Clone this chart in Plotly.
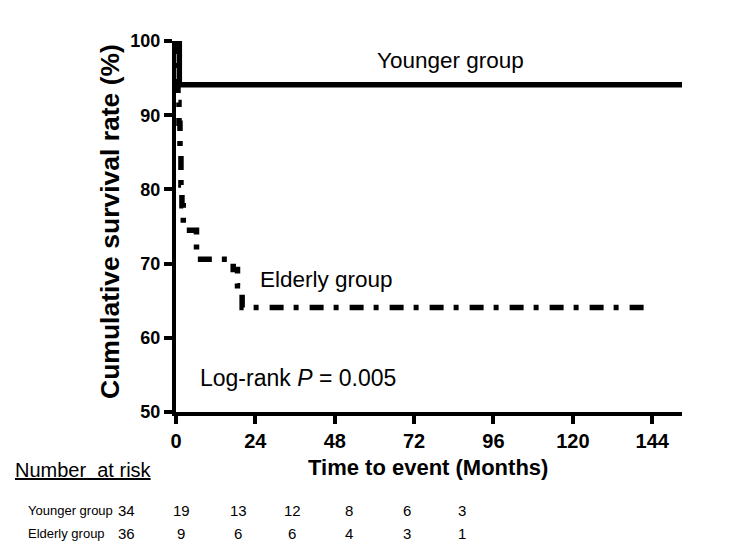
import plotly.graph_objects as go

# ---- data ----
months_young = [0, 1.0, 153]
surv_young = [100, 94.1, 94.1]

months_eld = [0, 0.3, 0.6, 0.9, 1.2, 1.5, 1.8, 2.2, 6.2, 17.3, 18.6, 20.0, 143.5]
surv_eld = [100, 97.2, 91.7, 88.9, 84.6, 80.6, 77.8, 74.5, 70.6, 69.2, 67.0, 64.1, 64.1]

x_ticks = [0, 24, 48, 72, 96, 120, 144]
y_ticks = [50, 60, 70, 80, 90, 100]

risk_groups = ["Younger group", "Elderly group"]
risk_young = [34, 19, 13, 12, 8, 6, 3]
risk_eld = [36, 9, 6, 6, 4, 3, 1]

# ---- layout geometry (page pixels; the page body has an 8px margin) ----
OFF = 8
W, H = 744 - OFF, 555 - OFF
L, R, T, B = 176 - OFF, 62, 41 - OFF, 143
PW, PH = W - L - R, H - T - B


def px(xp):
    return (xp - OFF - L) / PW


def py(yp):
    return 1 - (yp - OFF - T) / PH


risk_cols_px = [126, 181, 238, 292, 349, 407, 462]
risk_rows_px = [510, 533]

fig = go.Figure()
fig.add_trace(go.Scatter(
    x=months_young, y=surv_young, mode="lines", line_shape="hv",
    line=dict(color="black", width=5.5), name="Younger group", showlegend=False,
))
fig.add_trace(go.Scatter(
    x=months_eld, y=surv_eld, mode="lines", line_shape="hv",
    line=dict(color="black", width=5.5, dash="14px,10px,5px,11px"),
    name="Elderly group", showlegend=False,
))

base = "Liberation Sans, Arial, sans-serif"


def note(x, y, text, size, xanchor="center", **kw):
    return dict(x=x, y=y, xref="paper", yref="paper", xanchor=xanchor,
                yanchor="middle", text=text, showarrow=False,
                font=dict(family=base, size=size, color="black"), **kw)


ann = []
ann.append(dict(x=83, y=97.4, xref="x", yref="y", text="Younger group",
                xanchor="center", yanchor="middle",
                showarrow=False, font=dict(family=base, size=22.5, color="black")))
ann.append(dict(x=45.5, y=67.8, xref="x", yref="y", text="Elderly group",
                xanchor="center", yanchor="middle",
                showarrow=False, font=dict(family=base, size=22.5, color="black")))
ann.append(note(px(198), py(378), "Log-rank <i>P</i> = 0.005", 23, xanchor="left"))
ann.append(note(px(110), py(222), "<b>Cumulative survival rate (%)</b>", 26.5,
                textangle=-90))
ann.append(note(px(428), py(467), "<b>Time to event (Months)</b>", 22))
ann.append(note(px(13), py(470), "<u>Number  at risk</u>", 20, xanchor="left"))
for name, vals, ypx in zip(risk_groups, [risk_young, risk_eld], risk_rows_px):
    ann.append(note(px(26), py(ypx), name, 13, xanchor="left"))
    for v, xp in zip(vals, risk_cols_px):
        ann.append(note(px(xp), py(ypx), str(v), 15))

fig.update_layout(
    width=W, height=H,
    margin=dict(l=L, r=R, t=T, b=B, pad=0),
    paper_bgcolor="white", plot_bgcolor="white",
    showlegend=False,
    annotations=ann,
    xaxis=dict(range=[0, 153], tickvals=x_ticks, ticktext=[str(v) for v in x_ticks],
               showgrid=False, zeroline=False, showline=True, linecolor="black",
               linewidth=4, ticks="outside", ticklen=8, tickwidth=4, tickcolor="black",
               tickfont=dict(family=base, size=20, color="black", weight="bold")),
    yaxis=dict(range=[50, 100], tickvals=y_ticks, ticktext=[str(v) for v in y_ticks],
               showgrid=False, zeroline=False, showline=True, linecolor="black",
               linewidth=4, ticks="outside", ticklen=8, tickwidth=4, tickcolor="black",
               tickfont=dict(family=base, size=18, color="black", weight="bold")),
)

fig.write_html("out.html")
